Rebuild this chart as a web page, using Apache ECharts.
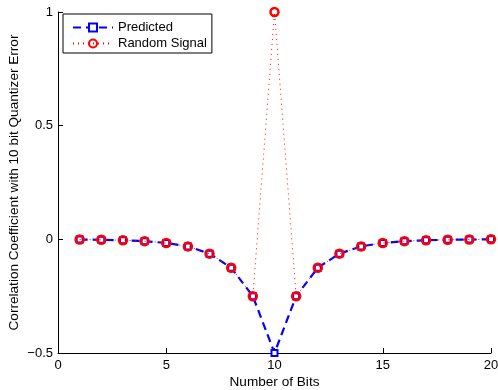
<!DOCTYPE html>
<html><head><meta charset="utf-8">
<script src="https://cdn.jsdelivr.net/npm/echarts@6/dist/echarts.min.js"></script>
<style>html,body{margin:0;padding:0;background:#fff}#c{width:498px;height:390px}</style>
</head><body><div id="c"></div>
<script>
const bits = [1,2,3,4,5,6,7,8,9,10,11,12,13,14,15,16,17,18,19,20];
const predicted = [-0.001,-0.002,-0.004,-0.008,-0.016,-0.031,-0.063,-0.125,-0.25,-0.5,-0.25,-0.125,-0.063,-0.031,-0.016,-0.008,-0.004,-0.002,-0.001,0];
const randomSignal = [-0.001,-0.002,-0.004,-0.008,-0.016,-0.031,-0.063,-0.125,-0.25,1,-0.25,-0.125,-0.063,-0.031,-0.016,-0.008,-0.004,-0.002,-0.001,0];
const xTicks = [0,5,10,15,20];
const yTicks = [-0.5,0,0.5,1];

const font = 'Liberation Sans, Arial, Helvetica, sans-serif';
const fs = 13;
const nfs = 13.6;
const chart = echarts.init(document.getElementById('c'), null, {renderer:'canvas'});
const fmtY = v => (v < 0 ? '\u2212' + Math.abs(v) : String(v));
chart.setOption({
  animation:false,
  grid:{left:58,right:7,top:12,bottom:37,containLabel:false,outerBoundsMode:'none'},
  legend:{
    left:63, top:14, orient:'vertical',
    borderColor:'#000', borderWidth:1, padding:[7,5,3,9],
    itemWidth:40, itemHeight:10, itemGap:3,
    textStyle:{fontFamily:font,fontSize:fs,color:'#000'},
    data:['Predicted','Random Signal']
  },
  xAxis:{
    type:'value', min:0, max:20, interval:5,
    name:'Number of Bits', nameLocation:'middle', nameGap:22, nameMoveOverlap:false,
    nameTextStyle:{fontFamily:font,fontSize:nfs,color:'#000'},
    axisLine:{onZero:false,lineStyle:{color:'#000',width:1}},
    axisTick:{inside:true,length:5,lineStyle:{color:'#000'}},
    axisLabel:{fontFamily:font,fontSize:fs,color:'#000',margin:6,formatter:v=>String(v)},
    splitLine:{show:false}
  },
  yAxis:{
    type:'value', min:-0.5, max:1, interval:0.5,
    name:'Correlation Coefficient with 10 bit Quantizer Error', nameLocation:'middle', nameGap:37, nameMoveOverlap:false,
    nameTextStyle:{fontFamily:font,fontSize:nfs,color:'#000'},
    axisLine:{show:true,onZero:false,lineStyle:{color:'#000',width:1}},
    axisTick:{show:true,inside:true,length:5,lineStyle:{color:'#000'}},
    axisLabel:{fontFamily:font,fontSize:fs,color:'#000',margin:5,formatter:fmtY},
    splitLine:{show:false}
  },
  series:[
    {name:'Predicted',type:'line',data:bits.map((b,i)=>[b,predicted[i]]),
     symbol:'rect',symbolSize:6,showAllSymbol:true,
     lineStyle:{color:'#0000ff',width:2.2,type:[8,5]},
     itemStyle:{color:'#fff',borderColor:'#0000ff',borderWidth:2},
     z:2},
    {name:'Random Signal',type:'line',data:bits.map((b,i)=>[b,randomSignal[i]]),
     symbol:'circle',symbolSize:8,showAllSymbol:true,
     lineStyle:{color:'#ff0000',width:1,type:[1,4]},
     itemStyle:{color:'rgba(255,255,255,0)',borderColor:'#ff0000',borderWidth:2.5},
     z:3}
  ]
});
</script></body></html>
